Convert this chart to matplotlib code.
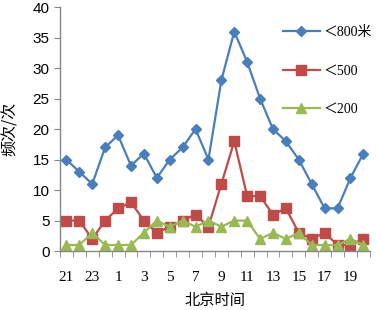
import matplotlib
matplotlib.use("Agg")
import matplotlib.pyplot as plt
import numpy as np

hours = [21, 22, 23, 0, 1, 2, 3, 4, 5, 6, 7, 8, 9, 10, 11, 12, 13, 14, 15, 16, 17, 18, 19, 20]
s800 = [15, 13, 11, 17, 19, 14, 16, 12, 15, 17, 20, 15, 28, 36, 31, 25, 20, 18, 15, 11, 7, 7, 12, 16]
s500 = [5, 5, 2, 5, 7, 8, 5, 3, 4, 5, 6, 4, 11, 18, 9, 9, 6, 7, 3, 2, 3, 1, 1, 2]
s200 = [1, 1, 3, 1, 1, 1, 3, 5, 4, 5, 4, 5, 4, 5, 5, 2, 3, 2, 3, 1, 1, 1, 2, 1]
labels = ["＜800米", "＜500", "＜200"]
colors = ["#4A7EBB", "#BE4B48", "#98B954"]

plt.rcParams['font.family'] = ['Liberation Sans', 'Noto Sans CJK SC', 'DejaVu Sans']

fig = plt.figure(figsize=(3.77, 3.10), dpi=100)
ax = fig.add_axes([0.159, 0.19, 0.822, 0.787])
x = np.arange(len(hours))
ax.plot(x, s800, color=colors[0], marker='D', markersize=5.5, lw=1.6, label=labels[0])
ax.plot(x, s500, color=colors[1], marker='s', markersize=7, lw=1.6, label=labels[1])
ax.plot(x, s200, color=colors[2], marker='^', markersize=7, lw=1.6, label=labels[2])

ax.set_xlim(-0.5, len(hours) - 0.5)
ax.set_ylim(0, 40)
ax.set_yticks(range(0, 41, 5))
ax.tick_params(axis='y', labelsize=11, length=4, color='#868686', direction='out')
ax.set_xticks(np.arange(-0.5, len(hours), 1), minor=True)
ax.set_xticks(x[::2])
ax.set_xticklabels([str(h) for h in hours[::2]], family=['Liberation Serif'], fontsize=11)
ax.tick_params(axis='x', which='major', length=0, pad=14)
ax.tick_params(axis='x', which='minor', length=4, color='#868686', direction='out')
for s in ['top', 'right']:
    ax.spines[s].set_visible(False)
for s in ['left', 'bottom']:
    ax.spines[s].set_color('#868686')
    ax.spines[s].set_linewidth(1.0)

ax.set_ylabel("频次/次", family=['Noto Sans CJK SC'], fontsize=11.5, labelpad=10)
ax.set_xlabel("北京时间", family=['Noto Sans CJK SC'], fontsize=11, labelpad=6)

leg = ax.legend(loc='upper left', bbox_to_anchor=(0.678, 0.975), frameon=False,
                labelspacing=1.85, handlelength=2.7, handletextpad=0.25,
                prop={'family': ['Liberation Serif', 'Noto Sans CJK SC'], 'size': 10})

fig.savefig("out.png", dpi=100)
